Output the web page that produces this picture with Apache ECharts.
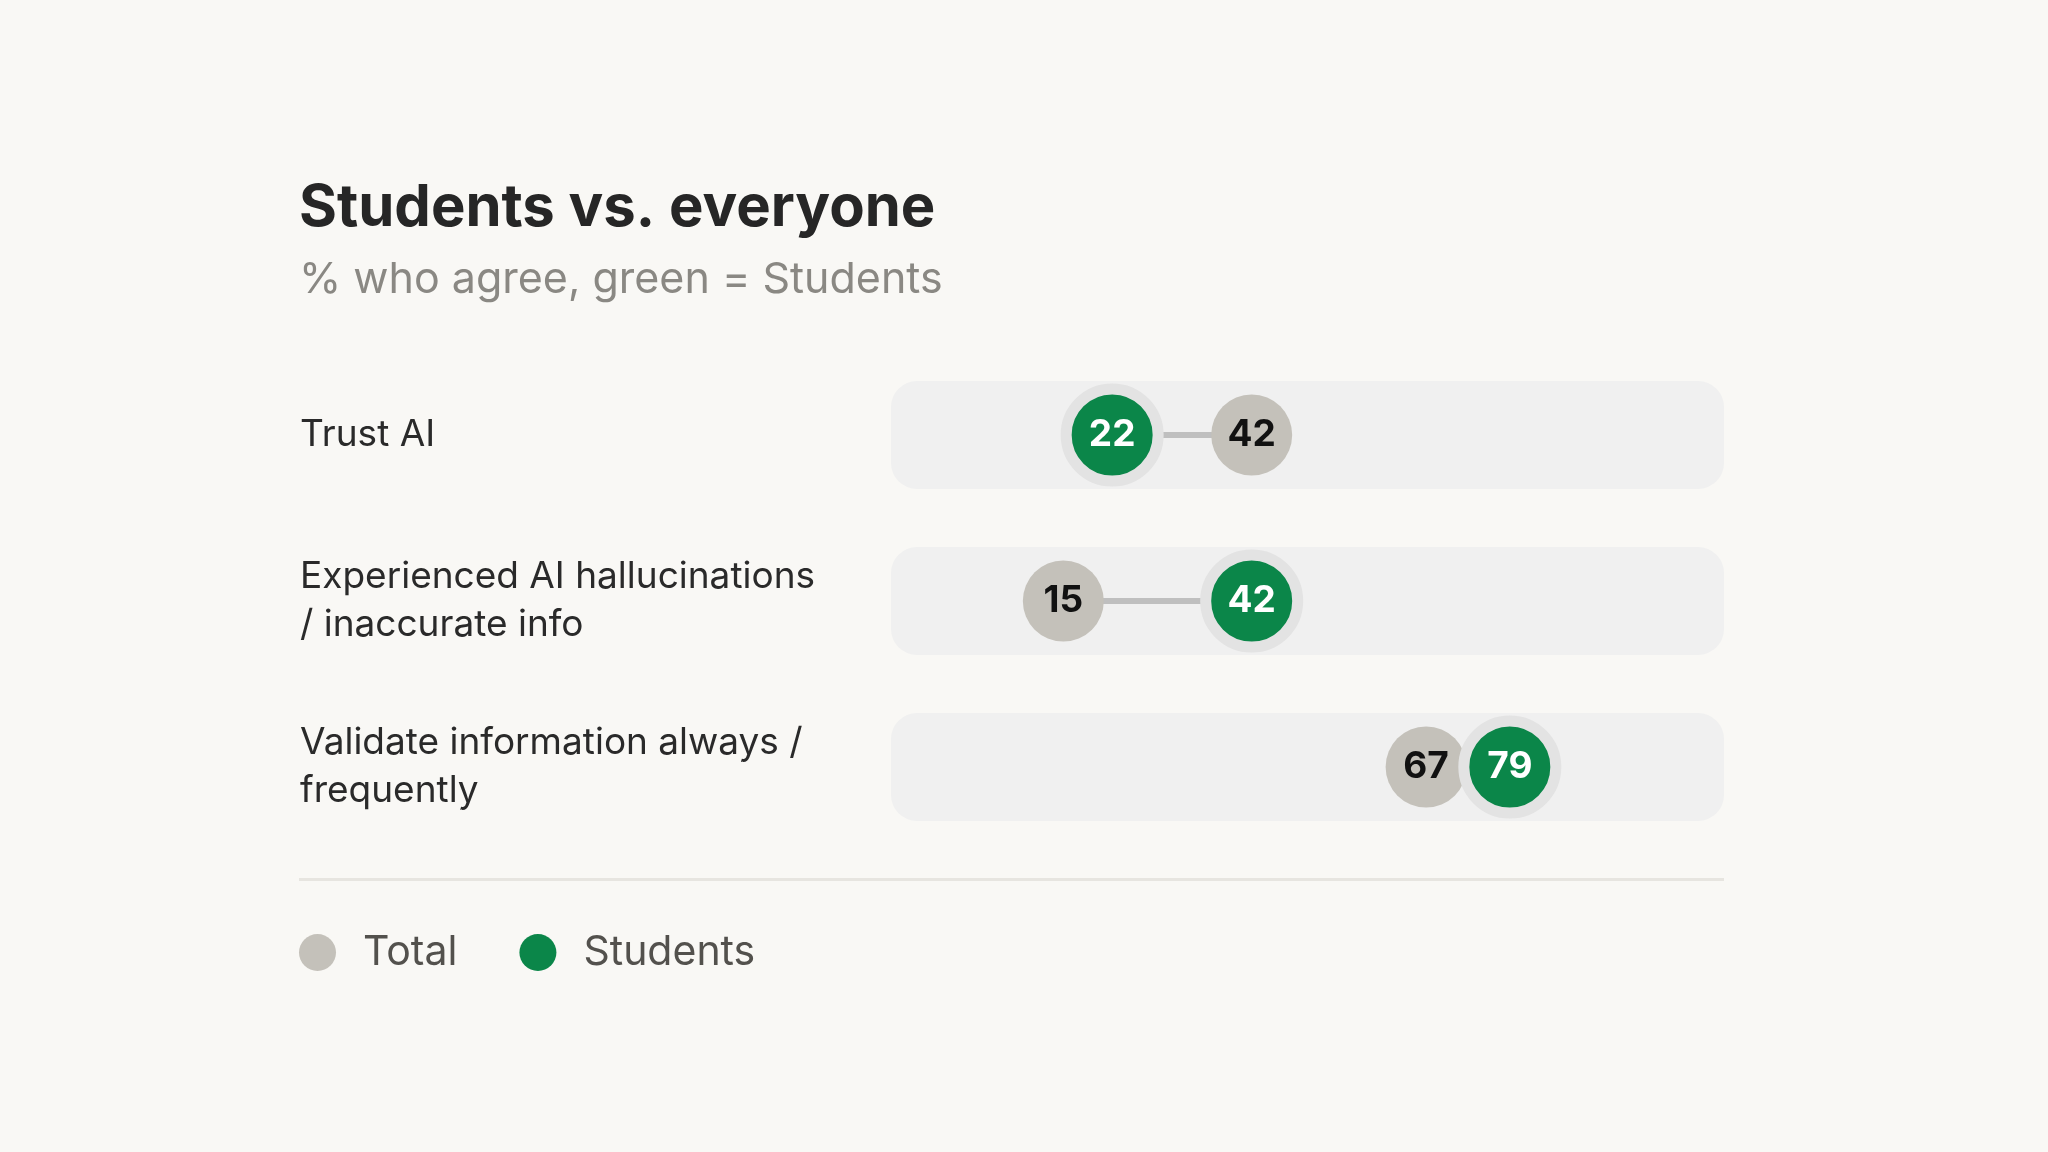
<!DOCTYPE html>
<html>
<head>
<meta charset="utf-8">
<script src="https://cdn.jsdelivr.net/npm/echarts@6/dist/echarts.min.js"></script>
<style>
html,body{margin:0;padding:0;background:#f9f8f5;}
#chart{width:2048px;height:1152px;}
</style>
</head>
<body>
<div id="chart"></div>
<script>
const categories = ['Trust AI', 'Experienced AI hallucinations\n/ inaccurate info', 'Validate information always /\nfrequently'];
const totalValues = [42, 15, 67];
const studentValues = [22, 42, 79];
const seriesNames = ['Total', 'Students'];

const GREEN = '#0b8649';
const GRAY = '#c4c1ba';
const FONT = 'Inter';

const chart = echarts.init(document.getElementById('chart'), null, {renderer: 'canvas'});

const trackData = categories.map((c, i) => [0, i]);
const linkData = categories.map((c, i) => [totalValues[i], i, studentValues[i]]);

const option = {
  backgroundColor: '#f9f8f5',
  animation: false,
  title: {
    text: 'Students vs. everyone',
    subtext: '% who agree, green = Students',
    left: 294,
    top: 172,
    itemGap: 13,
    textStyle: {fontFamily: FONT, fontSize: 58, fontWeight: 700, color: '#262626', lineHeight: 64},
    subtextStyle: {fontFamily: FONT, fontSize: 43, fontWeight: 400, color: '#8a8883', lineHeight: 52}
  },
  legend: {
    left: 299,
    top: 932,
    padding: 0,
    itemWidth: 37,
    itemHeight: 37,
    itemGap: 62,
    icon: 'circle',
    data: [
      {name: seriesNames[0], itemStyle: {color: GRAY, borderWidth: 0}},
      {name: seriesNames[1], itemStyle: {color: GREEN, borderWidth: 0}}
    ],
    textStyle: {fontFamily: FONT, fontSize: 41, color: '#53514d', padding: [0, 0, 0, 22]}
  },
  grid: {left: 891, right: 324, top: 352, bottom: 302, containLabel: false},
  xAxis: {
    type: 'value', min: -9.7, max: 109.7,
    show: false
  },
  yAxis: {
    type: 'category',
    data: categories,
    inverse: true,
    axisLine: {show: false},
    axisTick: {show: false},
    splitLine: {show: false},
    axisLabel: {
      align: 'left',
      margin: 591,
      fontFamily: FONT,
      fontSize: 37,
      lineHeight: 48,
      color: '#2a2a2a'
    }
  },
  graphic: [{
    type: 'rect',
    shape: {x: 299, y: 878, width: 1425, height: 3},
    style: {fill: '#e7e5e0'},
    silent: true
  }],
  series: [
    {
      type: 'custom',
      name: 'track',
      z: 1,
      silent: true,
      data: trackData,
      encode: {x: 0, y: 1},
      renderItem: function (params, api) {
        const cs = params.coordSys;
        const y = api.coord([0, api.value(1)])[1];
        const band = api.size([0, 1])[1];
        const h = band * 0.65;
        return {
          type: 'rect',
          shape: {x: cs.x, y: y - h / 2, width: cs.width, height: h, r: 26},
          style: {fill: '#f0f0f0'}
        };
      }
    },
    {
      type: 'custom',
      name: 'link',
      z: 2,
      silent: true,
      data: linkData,
      encode: {x: [0, 2], y: 1},
      renderItem: function (params, api) {
        const a = api.coord([api.value(0), api.value(1)]);
        const b = api.coord([api.value(2), api.value(1)]);
        return {
          type: 'line',
          shape: {x1: a[0], y1: a[1], x2: b[0], y2: b[1]},
          style: {stroke: '#bfbfbf', lineWidth: 6}
        };
      }
    },
    {
      type: 'scatter',
      name: seriesNames[0],
      z: 3,
      symbol: 'circle',
      symbolSize: 81,
      itemStyle: {color: GRAY, opacity: 1},
      data: totalValues.map((v, i) => [v, i]),
      label: {
        show: true, position: 'inside',
        formatter: p => String(p.value[0]),
        fontFamily: FONT, fontSize: 37, fontWeight: 700, color: '#111111'
      }
    },
    {
      type: 'scatter',
      name: seriesNames[1],
      z: 4,
      symbol: 'circle',
      symbolSize: 92,
      itemStyle: {color: GREEN, borderColor: '#e3e3e3', borderWidth: 11, opacity: 1},
      data: studentValues.map((v, i) => [v, i]),
      label: {
        show: true, position: 'inside',
        formatter: p => String(p.value[0]),
        fontFamily: FONT, fontSize: 37, fontWeight: 700, color: '#ffffff'
      }
    }
  ]
};
chart.setOption(option);
</script>
</body>
</html>
